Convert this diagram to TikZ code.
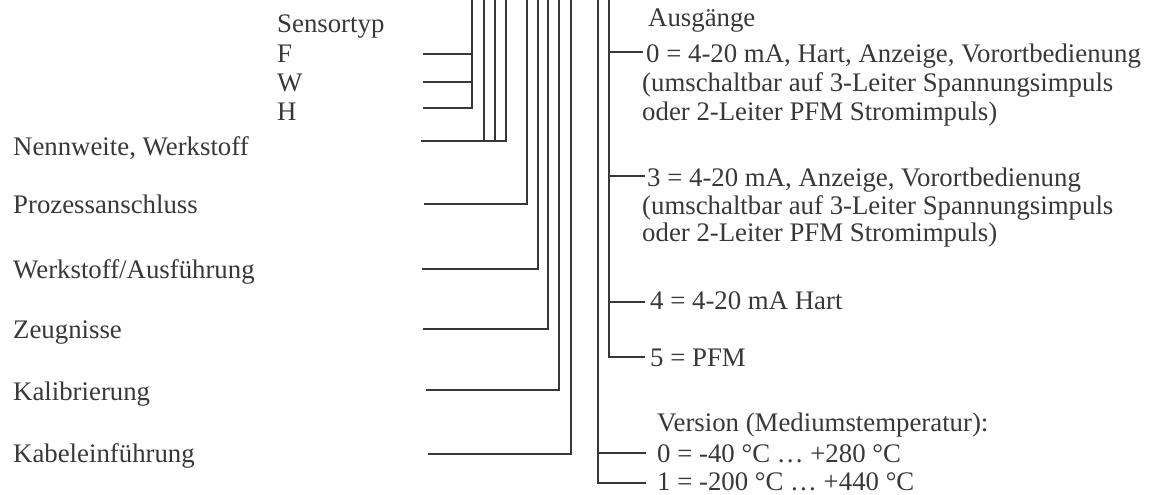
\documentclass[tikz,border=0pt]{standalone}
\usepackage{fontspec}
\setmainfont{Liberation Serif}
\definecolor{ink}{gray}{0.22}
\tikzset{
  lbl/.style={anchor=base west, inner sep=0pt, text=ink, font=\fontsize{26.8}{30}\selectfont},
  ln/.style={draw=ink, line width=1.6pt}
}
\begin{document}
\begin{tikzpicture}[x=1pt,y=-1pt]
\useasboundingbox (0,0) rectangle (1157,495);
% left labels
\node[lbl] (sens) at (277,33) {Sensortyp};
\node[lbl] (lF) at (277,63) {F};
\node[lbl] (lW) at (277,92) {W};
\node[lbl] (lH) at (277,121) {H};
\node[lbl] (nenn) at (13,155) {Nennweite, Werkstoff};
\node[lbl] (proz) at (13,213) {Prozessanschluss};
\node[lbl] (werk) at (13,278) {Werkstoff/Ausführung};
\node[lbl] (zeug) at (13,338) {Zeugnisse};
\node[lbl] (kal) at (13,400) {Kalibrierung};
\node[lbl] (kab) at (13,462) {Kabeleinführung};
% right labels
\node[lbl] (aus) at (648,27) {Ausgänge};
\node[lbl] (a0) at (646,63) {0 = 4-20 mA, Hart, Anzeige, Vorortbedienung};
\node[lbl] (a0b) at (642,92) {(umschaltbar auf 3-Leiter Spannungsimpuls};
\node[lbl] (a0c) at (642,120) {oder 2-Leiter PFM Stromimpuls)};
\node[lbl] (a3) at (647,186) {3 = 4-20 mA, Anzeige, Vorortbedienung};
\node[lbl] (a3b) at (642,214) {(umschaltbar auf 3-Leiter Spannungsimpuls};
\node[lbl] (a3c) at (642,241) {oder 2-Leiter PFM Stromimpuls)};
\node[lbl] (a4) at (650,309) {4 = 4-20 mA Hart};
\node[lbl] (a5) at (650,366) {5 = PFM};
\node[lbl] (ver) at (657,431) {Version (Mediumstemperatur):};
\node[lbl] (v0) at (657,462) {0 = -40 °C … +280 °C};
\node[lbl] (v1) at (657,490) {1 = -200 °C … +440 °C};
% coordinates: left ends of horizontals
\coordinate (hF) at (423,54);
\coordinate (hW) at (423,82);
\coordinate (hH) at (423,108);
\coordinate (hN) at (421,141);
\coordinate (hP) at (424,204);
\coordinate (hWA) at (422,269);
\coordinate (hZ) at (423,329);
\coordinate (hK) at (426,390);
\coordinate (hKE) at (428,454);
% tops of verticals
\coordinate (tS) at (472,-3);
\coordinate (tN1) at (484,-3);
\coordinate (tN2) at (495,-3);
\coordinate (tN3) at (506,-3);
\coordinate (tP) at (527,-3);
\coordinate (tWA) at (538,-3);
\coordinate (tZ) at (548,-3);
\coordinate (tK) at (559,-3);
\coordinate (tKE) at (571,-3);
\coordinate (tV) at (598,-3);
\coordinate (tA) at (609,-3);
% right ends of horizontals
\coordinate (eA0) at (643,52);
\coordinate (eA3) at (645,176);
\coordinate (eA4) at (645,302);
\coordinate (eA5) at (645,357);
\coordinate (eV0) at (646,453);
\coordinate (eV1) at (646,483);
% sensor type
\draw[ln] (hH) -| (tS);
\draw[ln] (hF) -- (hF -| tS);
\draw[ln] (hW) -- (hW -| tS);
% nominal width
\draw[ln] (hN) -| (tN3);
\draw[ln] (hN -| tN1) -- (tN1);
\draw[ln] (hN -| tN2) -- (tN2);
% others
\draw[ln] (hP) -| (tP);
\draw[ln] (hWA) -| (tWA);
\draw[ln] (hZ) -| (tZ);
\draw[ln] (hK) -| (tK);
\draw[ln] (hKE) -| (tKE);
% outputs
\draw[ln] (tA) |- (eA5);
\draw[ln] (eA0 -| tA) -- (eA0);
\draw[ln] (eA3 -| tA) -- (eA3);
\draw[ln] (eA4 -| tA) -- (eA4);
% version
\draw[ln] (tV) |- (eV1);
\draw[ln] (eV0 -| tV) -- (eV0);
\end{tikzpicture}
\end{document}
